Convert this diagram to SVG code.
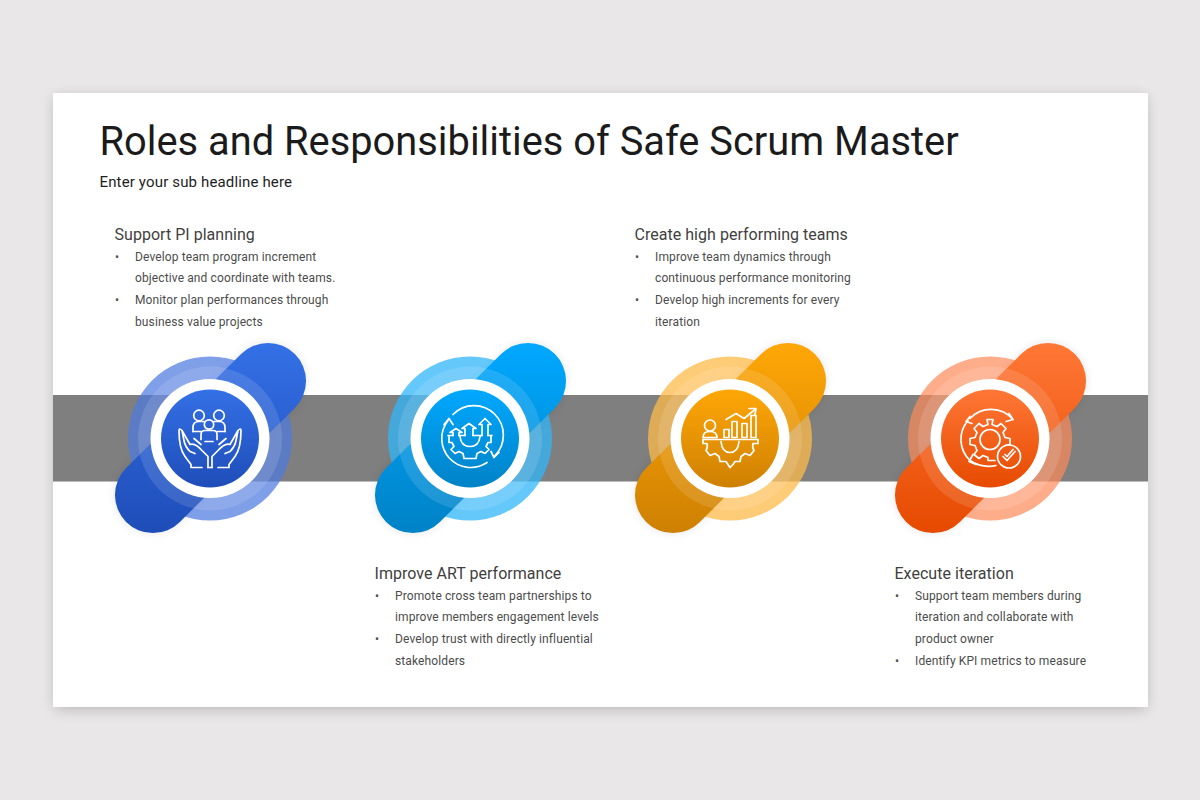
<svg xmlns="http://www.w3.org/2000/svg" xmlns:xlink="http://www.w3.org/1999/xlink" width="1200" height="800" viewBox="0 0 1200 800">
<style>
text{font-family:Roboto,"Liberation Sans",sans-serif}
.title{font-size:39.850px;fill:#1b1b1b}
.sub{font-size:15px;fill:#1e1e1e;letter-spacing:.15px}
.head{font-size:16px;fill:#3f3f3f;letter-spacing:.03px}
.body{font-size:12px;fill:#4c4c4c;letter-spacing:.12px}
.ic{fill:none;stroke:#fff;stroke-width:1.7;stroke-linecap:round;stroke-linejoin:round}
.shade{fill:#000;opacity:.1}
</style>
<defs>
<filter id="card" x="-5%" y="-5%" width="110%" height="110%"><feGaussianBlur stdDeviation="7"/></filter>
<filter id="soft" x="-30%" y="-30%" width="160%" height="160%"><feGaussianBlur stdDeviation="5"/></filter>
<linearGradient id="gb" x1="0" y1="0" x2="0" y2="1"><stop offset="0" stop-color="#3470e6"/><stop offset="1" stop-color="#1e4db8"/></linearGradient>
<linearGradient id="gc" x1="0" y1="0" x2="0" y2="1"><stop offset="0" stop-color="#00a8ff"/><stop offset="1" stop-color="#0082c6"/></linearGradient>
<linearGradient id="go" x1="0" y1="0" x2="0" y2="1"><stop offset="0" stop-color="#ffa707"/><stop offset="1" stop-color="#ce8002"/></linearGradient>
<linearGradient id="gr" x1="0" y1="0" x2="0" y2="1"><stop offset="0" stop-color="#ff7736"/><stop offset="1" stop-color="#e64a00"/></linearGradient>
<path id="pill" d="M-83.900 29.600 31.100-84.400A38 38 0 0 1 84.900-30.600L-30.100 83.400A38 38 0 0 1-83.900 29.600Z"/>
<g id="rings">
<circle r="72" fill="#fff" opacity=".12"/>
<circle r="59.500" fill="#fff"/>
</g>
</defs>

<rect width="1200" height="800" fill="#e9e7e8"/>
<rect x="55" y="97" width="1091" height="612" fill="#000" opacity=".22" filter="url(#card)"/>
<rect x="53" y="93" width="1095" height="614" fill="#fff"/>
<rect id="band" x="53" y="395" width="1095" height="86.500" fill="#7f7f7f"/>

<text class="title" x="99.500" y="155">Roles and Responsibilities of Safe Scrum Master</text>
<text class="sub" x="99.500" y="187">Enter your sub headline here</text>

<g id="node-1" transform="translate(210 438.500)">
<use xlink:href="#pill" href="#pill" class="shade" filter="url(#soft)"/>
<circle r="82" fill="#4f7ae0" opacity=".72"/>
<use xlink:href="#pill" href="#pill" fill="url(#gb)"/>
<use xlink:href="#rings" href="#rings"/>
<circle r="49" fill="url(#gb)"/>
<g class="ic">
<circle cx="-11" cy="-23" r="5.300"/><circle cx="9" cy="-23" r="5.300"/><circle cx="-1" cy="-14" r="4.700"/>
<path d="M-17-7V-11Q-17-17-11-17H-6M15-7V-11Q15-17 9-17H4"/>
<path d="M-9 1V-4Q-9-8-5-8H3Q7-8 7-4V1M-5 3H3"/>
<path d="M-17-7H-9M7-7H15"/>
<path d="M-8 29H-19V26L-25 18Q-31 10-31-8Q-31-11-28-8L-20 6Q-15 4-8 12L-2 18V29M-28-8-26 2Q-25 8-20 13L-15 15M-16 0-9 6"/>
<path d="M8 29H19V26L25 18Q31 10 31-8Q31-11 28-8L20 6Q15 4 8 12L2 18V29M28-8 26 2Q25 8 20 13L15 15M16 0 9 6"/>
<path d="M-2 29H2"/>
</g>
</g>

<g id="node-2" transform="translate(470 438.500)">
<use xlink:href="#pill" href="#pill" class="shade" filter="url(#soft)"/>
<circle r="82" fill="#32b5fa" opacity=".75"/>
<use xlink:href="#pill" href="#pill" fill="url(#gc)"/>
<use xlink:href="#rings" href="#rings"/>
<circle r="49" fill="url(#gc)"/>
<g class="ic">
<path d="M-17-24A29 29 0 0 1 25 17M21 13 24 19 29 14"/>
<path d="M-22-18A29 29 0 0 0 17 24M-26-14-21-20-17-14"/>
<path d="M-17-3V-6H-20L-14-10-8-6H-11V-3"/>
<path d="M-5-3V-10H-8L-1-15 6-10H3V-3"/>
<path d="M12-3V-14H9L15-20 21-14H18V-3"/>
<path d="M-22-3H-17M-11-3H-5M3-3H12M18-3H22"/>
<path d="M-10-2Q-9 8 0 8 9 8 10-2"/>
<path d="M-21-3V4H-18L-16 8-19 11-15 15-11 13-7 15-6 20H6L7 15 11 13 15 15 19 11 16 8 18 4H21V-3"/>
</g>
</g>

<g id="node-3" transform="translate(730 438.500)">
<use xlink:href="#pill" href="#pill" class="shade" filter="url(#soft)"/>
<circle r="82" fill="#fdb94a" opacity=".75"/>
<use xlink:href="#pill" href="#pill" fill="url(#go)"/>
<use xlink:href="#rings" href="#rings"/>
<circle r="49" fill="url(#go)"/>
<g class="ic">
<circle cx="-20" cy="-13" r="5.500"/>
<path d="M-27-1Q-27-7-20-7-13-7-13-1ZM-27 1H28"/>
<path d="M-6-1V-9H-1V-1ZM2-1V-17H7V-1ZM12-1V-15H17V-1ZM21-1V-23H26V-1Z"/>
<path d="M-4-19 6-25 14-20 25-29M19-30 26-30 25-24"/>
<path d="M-9 3Q-8 14 0 14 8 14 9 3"/>
<path d="M-27 1V5H-23Q-22 9-24 12L-20 17-15 15-11 18-10 23H-4L-2 26 0 29 3 26 5 23H10L11 18 15 15 20 17 24 12Q22 9 23 5H28V1"/>
</g>
</g>

<g id="node-4" transform="translate(990 438.500)">
<use xlink:href="#pill" href="#pill" class="shade" filter="url(#soft)"/>
<circle r="82" fill="#fd8a58" opacity=".7"/>
<use xlink:href="#pill" href="#pill" fill="url(#gr)"/>
<use xlink:href="#rings" href="#rings"/>
<circle r="49" fill="url(#gr)"/>
<g class="ic">
<path d="M-20-20A29 29 0 0 1 23-19M19-25 23-19 16-17"/>
<path d="M-20-22-24-17-18-15M-22-18A29 29 0 0 0-20 22"/>
<path d="M-20 22Q-8 30 6 27M-17 16-21 23-14 26"/>
<circle cx="0" cy="1" r="10"/>
<path d="M3-19 2-14 7-12 11-15 16-10 13-6 15-1 20 0V6L15 7M-3-19-2-14-7-12-11-15-16-10-13-6-15-1-20 0V6L-15 7-13 12-16 16-11 20-7 17-2 19-2 22 5 22M-3-19H3"/>
<circle cx="19" cy="18" r="11.500"/>
<path d="M13 18 17 22 25 13M15 16 17 18 23 11"/>
</g>
</g>

<g id="text-1">
<text class="head" x="114.500" y="240">Support PI planning</text>
<text class="body" x="115" y="260.500">•</text><text class="body" x="135" y="260.500">Develop team program increment</text>
<text class="body" x="135" y="281.500">objective and coordinate with teams.</text>
<text class="body" x="115" y="303.500">•</text><text class="body" x="135" y="303.500">Monitor plan performances through</text>
<text class="body" x="135" y="325.500">business value projects</text>
</g>
<g id="text-2">
<text class="head" x="374.500" y="579">Improve ART performance</text>
<text class="body" x="375" y="599.500">•</text><text class="body" x="395" y="599.500">Promote cross team partnerships to</text>
<text class="body" x="395" y="620.500">improve members engagement levels</text>
<text class="body" x="375" y="642.500">•</text><text class="body" x="395" y="642.500">Develop trust with directly influential</text>
<text class="body" x="395" y="664.500">stakeholders</text>
</g>
<g id="text-3">
<text class="head" x="634.500" y="240">Create high performing teams</text>
<text class="body" x="635" y="260.500">•</text><text class="body" x="655" y="260.500">Improve team dynamics through</text>
<text class="body" x="655" y="281.500">continuous performance monitoring</text>
<text class="body" x="635" y="303.500">•</text><text class="body" x="655" y="303.500">Develop high increments for every</text>
<text class="body" x="655" y="325.500">iteration</text>
</g>
<g id="text-4">
<text class="head" x="894.500" y="579">Execute iteration</text>
<text class="body" x="895" y="599.500">•</text><text class="body" x="915" y="599.500">Support team members during</text>
<text class="body" x="915" y="620.500">iteration and collaborate with</text>
<text class="body" x="915" y="642.500">product owner</text>
<text class="body" x="895" y="664.500">•</text><text class="body" x="915" y="664.500">Identify KPI metrics to measure</text>
</g>
</svg>
